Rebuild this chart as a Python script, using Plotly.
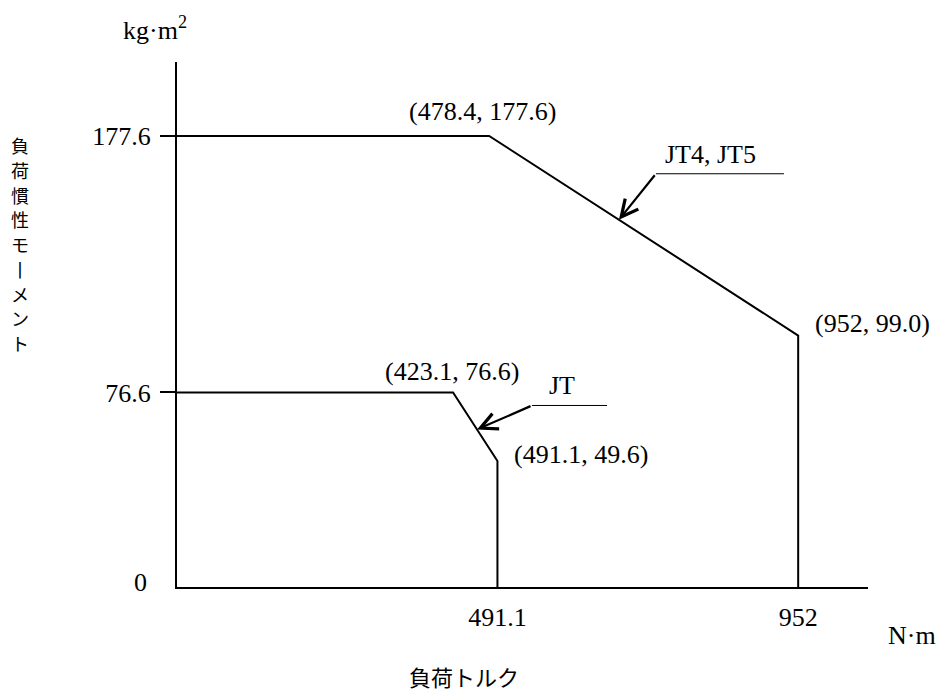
import plotly.graph_objects as go

# load torque (N·m) vs load moment of inertia (kg·m²) limits
jt_torque = [0, 423.1, 491.1, 491.1]
jt_inertia = [76.6, 76.6, 49.6, 0]
jt45_torque = [0, 478.4, 952, 952]
jt45_inertia = [177.6, 177.6, 99.0, 0]

x_ticks = [491.1, 952]
x_tick_text = ["491.1", "952"]
y_ticks = [76.6, 177.6]
y_tick_text = ["76.6", "177.6"]

corner_labels = ["(478.4, 177.6)", "(952, 99.0)", "(423.1, 76.6)", "(491.1, 49.6)"]
series_names = ["JT4, JT5", "JT"]

y_title = "負荷慣性モーメント"
x_title = "負荷トルク"

SERIF = "Liberation Serif, Times New Roman, serif"
SANS = "Noto Sans CJK JP, sans-serif"
FS = 26

# plot area in screen pixels (page body adds 8px offset)
PL, PR, PT, PB = 177, 868, 62, 587
W, H = 944, 693


def px_to_paper(x, y):
    return (x - PL) / (PR - PL), (PB - y) / (PB - PT)


fig = go.Figure()
for xs, ys in [(jt45_torque, jt45_inertia), (jt_torque, jt_inertia)]:
    fig.add_trace(go.Scatter(x=xs, y=ys, mode="lines",
                             line=dict(color="black", width=2),
                             cliponaxis=False, showlegend=False))

ann = []
# corner value labels
label_points = [
    (jt45_torque[1], jt45_inertia[1], "center", -7, 24),
    (jt45_torque[2], jt45_inertia[2], "left", 15, 12),
    (jt_torque[1], jt_inertia[1], "center", -1, 21),
    (jt_torque[2], jt_inertia[2], "left", 15, 7),
]
for (x, y, anchor, dx, dy), txt in zip(label_points, corner_labels):
    ann.append(dict(x=x, y=y, text=txt, showarrow=False, xanchor=anchor,
                    yanchor="middle", xshift=dx, yshift=dy,
                    font=dict(family=SERIF, size=FS, color="black")))

# arrows pointing at the sloped segment of each curve
callouts = [
    (jt45_torque, jt45_inertia, 0.42, 37, 46, 128, series_names[0], 55, 19),
    (jt_torque, jt_inertia, 0.54, 55, 24, 75, series_names[1], 30, 20),
]
shapes = []
for xs, ys, frac, tx, ty, lead, name, lx, ly in callouts:
    px = xs[1] + frac * (xs[2] - xs[1])
    py = ys[1] + frac * (ys[2] - ys[1])
    ann.append(dict(x=px, y=py, ax=tx, ay=-ty, text="", showarrow=True,
                    arrowhead=5, arrowsize=1.5, arrowwidth=2.2,
                    arrowcolor="black"))
    shapes.append(dict(type="line", xref="x", yref="y",
                       xsizemode="pixel", ysizemode="pixel",
                       xanchor=px, yanchor=py,
                       x0=tx, x1=tx + lead, y0=ty, y1=ty,
                       line=dict(color="black", width=1)))
    ann.append(dict(x=px, y=py, text=name, showarrow=False,
                    xanchor="center", yanchor="middle",
                    xshift=tx + lx, yshift=ty + ly,
                    font=dict(family=SERIF, size=FS, color="black")))

# zero label
ann.append(dict(x=0, y=0, text="0", showarrow=False, xanchor="center",
                yanchor="middle", xshift=-37, yshift=5,
                font=dict(family=SERIF, size=FS, color="black")))

# units and x title, placed by screen pixel
for sx, sy, txt, fam, size in [
    (155, 29, "kg·m<sup>2</sup>", SERIF, FS),
    (912, 635, "N·m", SERIF, FS),
    (464, 676, x_title, SANS, 22),
]:
    xp, yp = px_to_paper(sx, sy)
    ann.append(dict(x=xp, y=yp, xref="paper", yref="paper", text=txt,
                    showarrow=False, xanchor="center", yanchor="middle",
                    font=dict(family=fam, size=size, color="black")))

# vertical (tategaki) y title, one character per row
for i, ch in enumerate(y_title):
    if ch == "ー":
        ch = "丨"
    xp, yp = px_to_paper(20, 145 + i * 24.75)
    ann.append(dict(x=xp, y=yp, xref="paper", yref="paper", text=ch,
                    showarrow=False, xanchor="center", yanchor="middle",
                    font=dict(family=SANS, size=18, color="black")))

fig.update_layout(
    width=W, height=H,
    margin=dict(l=PL - 8, r=W - PR + 8, t=PT - 8, b=H - PB + 8),
    plot_bgcolor="white", paper_bgcolor="white",
    annotations=ann, shapes=shapes, showlegend=False,
    xaxis=dict(range=[0, 1059], showgrid=False, zeroline=False,
               showline=True, linecolor="black", linewidth=2,
               tickvals=x_ticks, ticktext=x_tick_text, ticks="",
               ticklabelstandoff=6,
               tickfont=dict(family=SERIF, size=FS, color="black")),
    yaxis=dict(range=[0, 206.7], showgrid=False, zeroline=False,
               showline=True, linecolor="black", linewidth=2,
               tickvals=y_ticks, ticktext=y_tick_text, ticks="outside",
               ticklen=15, tickwidth=2, tickcolor="black",
               ticklabelstandoff=4,
               tickfont=dict(family=SERIF, size=FS, color="black")),
)

fig.write_html("out.html")
